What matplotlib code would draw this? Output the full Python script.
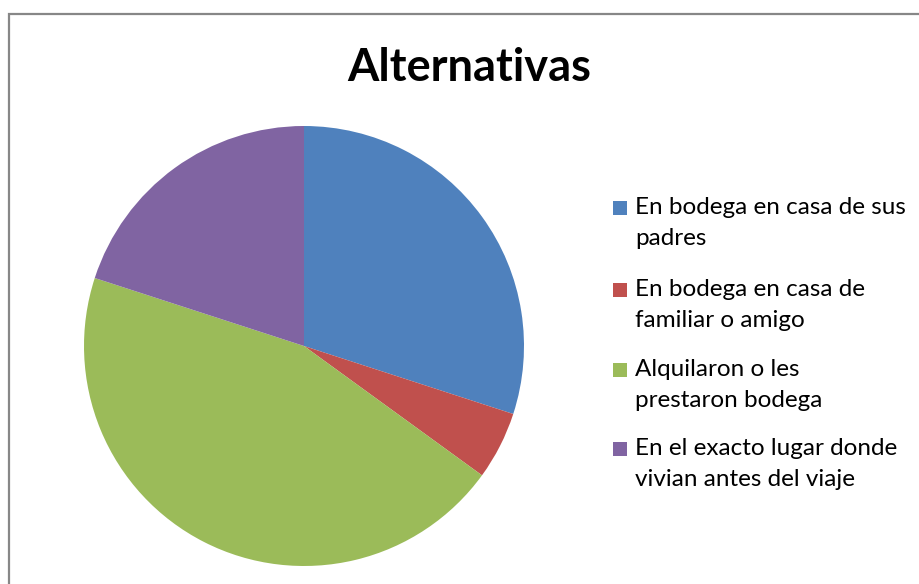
import matplotlib
matplotlib.use("Agg")
import matplotlib.pyplot as plt
from matplotlib.patches import Rectangle

# data
categories = [
    "En bodega en casa de sus\npadres",
    "En bodega en casa de\nfamiliar o amigo",
    "Alquilaron o les\nprestaron bodega",
    "En el exacto lugar donde\nvivian antes del viaje",
]
values = [30, 5, 45, 20]
colors = ["#4F81BD", "#C0504D", "#9BBB59", "#8064A2"]
title = "Alternativas"

W, H = 920, 584
fig = plt.figure(figsize=(W / 100, H / 100), dpi=100)
plt.rcParams["font.family"] = ["Lato", "DejaVu Sans"]

# chart area border (only left/top visible in the crop)
fig.patches.append(Rectangle((8.5 / W, -0.1), 2.0, 1.1 - 14.5 / H, transform=fig.transFigure,
                             fill=False, edgecolor="#878787", linewidth=1.6))

# pie: center (304, 346), radius 220 px
cx, cy, r = 304, 346, 220
ax = fig.add_axes([(cx - r) / W, (H - cy - r) / H, 2 * r / W, 2 * r / H])
ax.pie(values, colors=colors, startangle=90, counterclock=False, radius=1,
       wedgeprops=dict(linewidth=0))
ax.set_xlim(-1, 1)
ax.set_ylim(-1, 1)
ax.set_aspect("equal")
ax.axis("off")

fig.text(469 / W, 1 - 68 / H, title, ha="center", va="center",
         fontsize=32.5, fontweight="bold")

# legend, drawn by hand so the swatch sits on the first line
first_line_y = [208, 290, 370, 449]
for lab, col, y in zip(categories, colors, first_line_y):
    fig.patches.append(Rectangle((613 / W, 1 - (y + 7) / H), 14 / W, 14 / H,
                                 transform=fig.transFigure, facecolor=col, edgecolor="none"))
    fig.text(635 / W, 1 - (y - 11) / H, lab, ha="left", va="top",
             fontsize=17.5, linespacing=1.6)

fig.savefig("out.png", dpi=100)
